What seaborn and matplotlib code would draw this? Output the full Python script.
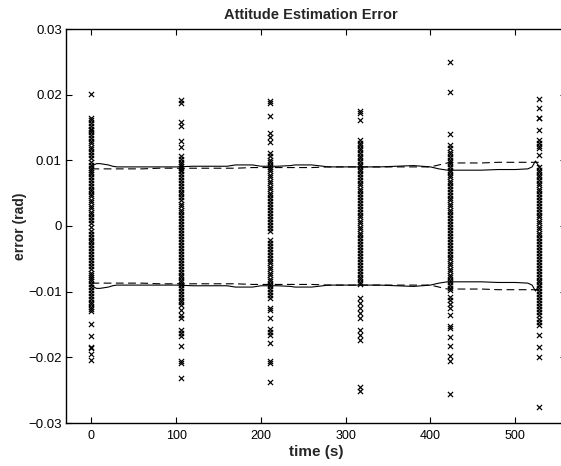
import numpy as np
import pandas as pd
import matplotlib
matplotlib.use("Agg")
import matplotlib.pyplot as plt
import seaborn as sns

# ---- data ----
cluster_times = [0.0, 105.5, 211.0, 317.0, 423.0, 528.0]

c0 = [0.0201, 0.0165, 0.0161, 0.0157, 0.0152, 0.0148, 0.0146, 0.0143, 0.0139, 0.0134, 0.0129,
      0.0126, 0.0121, 0.0117, 0.0112, 0.0108, 0.0103, 0.0097, 0.0093, 0.0089, 0.0086, 0.0082,
      0.0079, 0.0074, 0.0070, 0.0066, 0.0061, 0.0057, 0.0054, 0.0049, 0.0045, 0.0040, 0.0036,
      0.0031, 0.0027, 0.0022, 0.0018, 0.0013, 0.0009, 0.0004, -0.0002, -0.0007, -0.0012,
      -0.0016, -0.0021, -0.0025, -0.0029, -0.0034, -0.0038, -0.0043, -0.0047, -0.0052,
      -0.0057, -0.0061, -0.0066, -0.0071, -0.0074, -0.0077, -0.0081, -0.0084, -0.0088,
      -0.0093, -0.0097, -0.0102, -0.0106, -0.0111, -0.0115, -0.0119, -0.0123, -0.0127,
      -0.0130, -0.0149, -0.0167, -0.0184, -0.0186, -0.0195, -0.0204]
c1 = [0.0192, 0.0187, 0.0159, 0.0152, 0.0130, 0.0121, 0.0107, 0.0102, 0.0098, 0.0095, 0.0092,
      0.0089, 0.0086, 0.0083, 0.0079, 0.0075, 0.0070, 0.0066, 0.0061, 0.0057, 0.0052, 0.0048,
      0.0044, 0.0039, 0.0034, 0.0030, 0.0025, 0.0021, 0.0016, 0.0012, 0.0007, 0.0003, -0.0002,
      -0.0006, -0.0011, -0.0015, -0.0020, -0.0024, -0.0029, -0.0033, -0.0038, -0.0043,
      -0.0047, -0.0052, -0.0056, -0.0061, -0.0065, -0.0070, -0.0074, -0.0078, -0.0082,
      -0.0086, -0.0090, -0.0094, -0.0099, -0.0103, -0.0108, -0.0112, -0.0116, -0.0120,
      -0.0128, -0.0135, -0.0140, -0.0158, -0.0163, -0.0167, -0.0182, -0.0206, -0.0209, -0.0232]
c2 = [0.0190, 0.0188, 0.0167, 0.0141, 0.0136, 0.0128, 0.0111, 0.0106, 0.0101, 0.0097, 0.0093,
      0.0090, 0.0087, 0.0083, 0.0078, 0.0074, 0.0069, 0.0065, 0.0060, 0.0056, 0.0051, 0.0047,
      0.0042, 0.0038, 0.0033, 0.0029, 0.0024, 0.0020, 0.0015, 0.0011, 0.0006, 0.0002, -0.0003,
      -0.0007, -0.0021, -0.0026, -0.0030, -0.0035, -0.0039, -0.0044, -0.0048, -0.0053,
      -0.0057, -0.0062, -0.0066, -0.0071, -0.0075, -0.0080, -0.0084, -0.0088, -0.0092,
      -0.0096, -0.0100, -0.0105, -0.0110, -0.0125, -0.0128, -0.0140, -0.0157, -0.0161,
      -0.0166, -0.0178, -0.0205, -0.0208, -0.0238]
c3 = [0.0175, 0.0172, 0.0161, 0.0131, 0.0127, 0.0123, 0.0119, 0.0115, 0.0111, 0.0107, 0.0103,
      0.0099, 0.0095, 0.0091, 0.0087, 0.0083, 0.0079, 0.0075, 0.0070, 0.0066, 0.0062, 0.0057,
      0.0053, 0.0049, 0.0044, 0.0040, 0.0035, 0.0031, 0.0026, 0.0022, 0.0017, 0.0013, 0.0008,
      0.0004, -0.0001, -0.0005, -0.0010, -0.0014, -0.0019, -0.0023, -0.0028, -0.0032,
      -0.0037, -0.0041, -0.0046, -0.0050, -0.0055, -0.0059, -0.0064, -0.0068, -0.0073,
      -0.0077, -0.0081, -0.0085, -0.0089, -0.0110, -0.0117, -0.0125, -0.0133, -0.0140,
      -0.0158, -0.0166, -0.0174, -0.0245, -0.0252]
c4 = [0.0250, 0.0204, 0.0140, 0.0123, 0.0119, 0.0113, 0.0109, 0.0105, 0.0101, 0.0097, 0.0094,
      0.0090, 0.0086, 0.0082, 0.0078, 0.0074, 0.0069, 0.0065, 0.0061, 0.0056, 0.0052, 0.0047,
      0.0043, 0.0039, 0.0034, 0.0030, 0.0025, 0.0021, 0.0016, 0.0012, 0.0007, 0.0003, -0.0002,
      -0.0006, -0.0011, -0.0015, -0.0020, -0.0024, -0.0029, -0.0033, -0.0038, -0.0042,
      -0.0047, -0.0051, -0.0056, -0.0060, -0.0065, -0.0069, -0.0074, -0.0078, -0.0082,
      -0.0086, -0.0090, -0.0094, -0.0097, -0.0108, -0.0113, -0.0119, -0.0125, -0.0135,
      -0.0153, -0.0155, -0.0169, -0.0183, -0.0198, -0.0205, -0.0256]
c5 = [0.0193, 0.0180, 0.0165, 0.0164, 0.0146, 0.0131, 0.0126, 0.0122, 0.0119, 0.0108, 0.0090,
      0.0086, 0.0082, 0.0078, 0.0074, 0.0070, 0.0066, 0.0062, 0.0057, 0.0053, 0.0049, 0.0044,
      0.0040, 0.0035, 0.0031, 0.0026, 0.0022, 0.0017, 0.0013, 0.0008, 0.0004, -0.0001,
      -0.0005, -0.0010, -0.0014, -0.0019, -0.0023, -0.0028, -0.0032, -0.0037, -0.0041,
      -0.0046, -0.0050, -0.0055, -0.0059, -0.0064, -0.0068, -0.0073, -0.0077, -0.0082,
      -0.0086, -0.0090, -0.0095, -0.0099, -0.0104, -0.0108, -0.0113, -0.0117, -0.0122,
      -0.0127, -0.0131, -0.0136, -0.0141, -0.0146, -0.0151, -0.0166, -0.0184, -0.0200, -0.0275]
cluster_errors = [c0, c1, c2, c3, c4, c5]

line_t = [0, 3, 6, 10, 15, 20, 25, 30, 40, 60, 80, 100, 120, 140, 160, 170, 190, 200, 220,
          235, 240, 260, 280, 300, 320, 340, 360, 380, 400, 410, 420, 440, 460, 480, 500,
          515, 520, 524, 527, 530]
upper_solid = [0.0090, 0.0093, 0.0095, 0.0095, 0.0094, 0.0093, 0.0091, 0.0090, 0.0090, 0.0090,
               0.0090, 0.0090, 0.0091, 0.0091, 0.0091, 0.0093, 0.0093, 0.0091, 0.0091, 0.0092,
               0.0093, 0.0093, 0.0090, 0.0090, 0.0090, 0.0090, 0.0091, 0.0092, 0.0090, 0.0087,
               0.0085, 0.0085, 0.0085, 0.0086, 0.0086, 0.0087, 0.0090, 0.0099, 0.0093, 0.0090]
upper_dashed = [0.0087, 0.0087, 0.0087, 0.0087, 0.0087, 0.0087, 0.0087, 0.0087, 0.0087, 0.0087,
                0.0088, 0.0088, 0.0088, 0.0088, 0.0088, 0.0088, 0.0089, 0.0089, 0.0089, 0.0089,
                0.0089, 0.0089, 0.0090, 0.0090, 0.0090, 0.0090, 0.0090, 0.0090, 0.0090, 0.0093,
                0.0096, 0.0096, 0.0096, 0.0097, 0.0097, 0.0097, 0.0097, 0.0097, 0.0097, 0.0097]
lower_solid = [-0.0090, -0.0093, -0.0095, -0.0095, -0.0094, -0.0093, -0.0091, -0.0090, -0.0090,
               -0.0090, -0.0090, -0.0090, -0.0091, -0.0091, -0.0091, -0.0093, -0.0093, -0.0091,
               -0.0091, -0.0092, -0.0093, -0.0093, -0.0090, -0.0090, -0.0090, -0.0090, -0.0091,
               -0.0092, -0.0090, -0.0087, -0.0085, -0.0085, -0.0085, -0.0086, -0.0086, -0.0087,
               -0.0090, -0.0099, -0.0093, -0.0090]
lower_dashed = [-0.0087, -0.0087, -0.0087, -0.0087, -0.0087, -0.0087, -0.0087, -0.0087, -0.0087,
                -0.0087, -0.0088, -0.0088, -0.0088, -0.0088, -0.0088, -0.0088, -0.0089, -0.0089,
                -0.0089, -0.0089, -0.0089, -0.0089, -0.0090, -0.0090, -0.0090, -0.0090, -0.0090,
                -0.0090, -0.0090, -0.0093, -0.0096, -0.0096, -0.0096, -0.0097, -0.0097, -0.0097,
                -0.0097, -0.0097, -0.0097, -0.0097]

x_ticks = [0, 100, 200, 300, 400, 500]
y_ticks = [-0.03, -0.02, -0.01, 0, 0.01, 0.02, 0.03]
y_tick_labels = ["\u22120.03", "\u22120.02", "\u22120.01", "0", "0.01", "0.02", "0.03"]

# ---- build tables ----
pts = pd.DataFrame({
    "time": np.concatenate([[t] * len(e) for t, e in zip(cluster_times, cluster_errors)]),
    "error": np.concatenate(cluster_errors),
})
lines = pd.DataFrame({"time": line_t, "us": upper_solid, "ud": upper_dashed,
                      "ls": lower_solid, "ld": lower_dashed})

sns.set_style("white")
plt.rcParams["font.family"] = ["Liberation Sans", "DejaVu Sans"]

fig = plt.figure(figsize=(5.61, 4.66), dpi=100)
W, H = 561, 466
ax = fig.add_axes([66 / W, 1 - 423 / H, (566 - 66) / W, (423 - 29) / H])

sns.scatterplot(data=pts, x="time", y="error", marker="x", color="black", s=14,
                linewidth=0.85, ax=ax, legend=False)
dash = (0, (7, 4))
for col, ls in [("us", "-"), ("ls", "-"), ("ud", dash), ("ld", dash)]:
    sns.lineplot(data=lines, x="time", y=col, color="black", linestyle=ls, linewidth=0.8,
                 sort=False, estimator=None, ax=ax, legend=False)

ax.set_xlim(-30, 560)
ax.set_ylim(-0.03, 0.03)
ax.set_xticks(x_ticks)
ax.set_xticklabels([str(t) for t in x_ticks])
ax.set_yticks(y_ticks)
ax.set_yticklabels(y_tick_labels)
ax.tick_params(direction="in", length=4, width=0.8, labelsize=9, colors="black",
               top=True, right=True, bottom=True, left=True)
ax.tick_params(axis="y", labelsize=9.5, pad=3)
ax.tick_params(axis="x", pad=5)
for s in ax.spines.values():
    s.set_color("black")
    s.set_linewidth(1.0)

ax.set_xlabel("time (s)", fontsize=11, fontweight="bold", labelpad=2)
ax.set_ylabel("error (rad)", fontsize=10, fontweight="bold", labelpad=1)
ax.set_title("Attitude Estimation Error", fontsize=10.5, fontweight="bold", pad=7,
             x=(311 - 66) / 500)

fig.savefig("out.png", dpi=100)
